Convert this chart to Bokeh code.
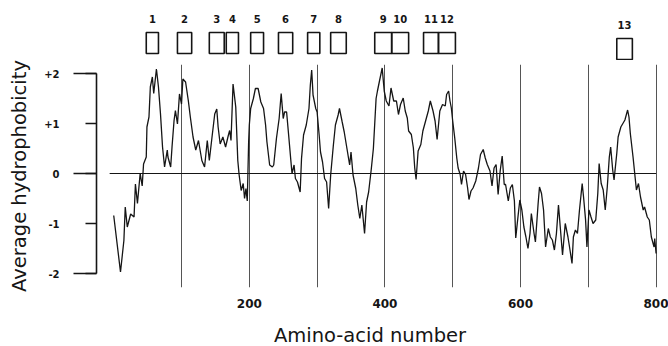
from bokeh.plotting import figure
from bokeh.models import Range1d, FixedTicker
from bokeh.layouts import column
from bokeh.embed import file_html
from bokeh.resources import INLINE
from bokeh.core.properties import value

# ---------------- data ----------------
residue = [0, 10, 15, 17, 20, 25, 30, 32, 35, 39, 42, 44, 48, 49, 52, 54, 57, 59, 63, 66,
           69, 72, 75, 79, 80, 84, 86, 89, 91, 94, 97, 100, 102, 106, 110, 113, 117, 121, 125, 130,
           134, 138, 141, 145, 149, 152, 154, 157, 161, 165, 169, 171, 173, 176, 180, 183, 185, 188, 191, 193,
           195, 197, 199, 200, 202, 206, 209, 213, 217, 221, 224, 226, 230, 234, 236, 240, 244, 247, 250, 252,
           255, 258, 261, 263, 266, 268, 271, 275, 277, 280, 284, 288, 290, 292, 294, 298, 300, 303, 305, 308,
           311, 314, 317, 320, 324, 327, 331, 333, 337, 340, 344, 348, 350, 353, 357, 360, 363, 366, 370, 373,
           376, 380, 383, 385, 387, 389, 392, 396, 399, 402, 406, 409, 413, 417, 420, 423, 427, 430, 433, 435,
           439, 442, 444, 446, 449, 453, 456, 460, 464, 467, 471, 474, 477, 481, 485, 489, 491, 494, 496, 498,
           500, 503, 506, 508, 511, 513, 516, 519, 522, 524, 527, 530, 534, 538, 541, 545, 548, 551, 555, 558,
           561, 564, 567, 570, 573, 576, 578, 582, 585, 588, 591, 593, 596, 599, 602, 605, 608, 611, 614, 616,
           620, 622, 626, 628, 631, 634, 637, 641, 644, 647, 650, 653, 656, 659, 662, 666, 670, 673, 676, 678,
           681, 684, 687, 691, 693, 696, 698, 701, 704, 707, 711, 714, 716, 719, 722, 725, 728, 731, 733, 736,
           738, 742, 744, 748, 751, 754, 758, 760, 762, 766, 769, 771, 774, 777, 781, 783, 787, 790, 793, 797,
           798, 800]
hydro = [-0.84, -1.97, -1.34, -0.67, -1.07, -0.81, -0.87, -0.21, -0.60, 0.00, -0.25, 0.19, 0.33, 0.93, 1.13, 1.73, 1.93, 1.60, 2.09, 1.73,
         1.19, 0.53, 0.13, 0.47, 0.33, 0.13, 0.53, 1.06, 1.26, 0.99, 1.59, 1.39, 1.89, 1.83, 1.46, 1.13, 0.73, 0.47, 0.66, 0.26,
         0.13, 0.66, 0.26, 0.73, 1.19, 1.29, 0.93, 0.59, 0.73, 0.53, 0.76, 0.86, 0.66, 1.79, 1.33, 0.26, -0.03, -0.34, -0.20, -0.50,
         -0.30, -0.55, 0.63, 0.97, 1.30, 1.50, 1.70, 1.70, 1.43, 1.30, 0.97, 0.63, 0.17, 0.13, 0.17, 0.70, 1.10, 1.60, 1.10, 1.23,
         1.23, 0.77, 0.30, 0.00, 0.17, -0.10, -0.17, -0.37, 0.30, 0.77, 0.97, 1.30, 1.77, 2.07, 1.57, 1.30, 1.23, 0.77, 0.43, 0.23,
         -0.10, -0.17, -0.70, -0.03, 0.57, 0.97, 1.17, 1.30, 1.03, 0.83, 0.50, 0.17, 0.43, -0.03, -0.30, -0.63, -0.90, -0.63, -1.20, -0.57,
         -0.37, 0.10, 0.50, 1.00, 1.50, 1.65, 1.85, 2.11, 1.65, 1.45, 1.35, 1.71, 1.45, 1.45, 1.18, 1.38, 1.51, 1.25, 1.11, 0.85,
         0.78, 0.51, 0.11, -0.12, 0.45, 0.58, 0.85, 1.05, 1.25, 1.45, 1.25, 1.05, 0.68, 1.25, 1.38, 1.35, 1.58, 1.65, 1.45, 1.31,
         1.05, 0.71, 0.31, 0.11, -0.02, -0.22, 0.05, -0.02, -0.29, -0.52, -0.35, -0.29, -0.15, 0.11, 0.38, 0.48, 0.31, 0.18, 0.05, -0.25,
         0.11, 0.18, -0.42, 0.05, 0.35, -0.22, -0.22, -0.55, -0.29, -0.22, -0.55, -1.29, -0.90, -0.53, -0.73, -1.07, -1.27, -1.50, -1.20, -0.80,
         -1.20, -1.37, -0.60, -0.27, -0.40, -0.73, -1.47, -1.10, -1.27, -1.33, -1.53, -1.20, -0.63, -1.13, -1.63, -1.00, -1.27, -1.53, -1.80, -1.27,
         -1.13, -1.20, -0.73, -0.20, -0.47, -0.93, -1.47, -0.73, -0.87, -1.00, -0.93, -0.40, 0.20, -0.20, -0.33, -0.73, -0.27, 0.33, 0.53, 0.07,
         -0.13, 0.40, 0.73, 0.93, 1.00, 1.07, 1.27, 1.13, 0.80, 0.33, -0.07, -0.33, -0.20, -0.47, -0.73, -0.67, -0.87, -0.93, -1.27, -1.47,
         -1.30, -1.60]

tm_labels = ["1", "2", "3", "4", "5", "6", "7", "8", "9", "10", "11", "12", "13"]
tm_start = [48, 94, 141, 166, 202, 243, 286, 320, 385, 410, 457, 479, 742]
tm_end = [66, 115, 163, 184, 221, 264, 304, 343, 410, 435, 479, 504, 765]

grid_ticks = [100, 200, 300, 400, 500, 600, 700, 800]
x_ticks = [200, 400, 600, 800]
y_ticks = [-2, -1, 0, 1, 2]
y_long_ticks = [-2, 0, 2]
y_tick_labels = {2: "+2", 1: "+1", 0: "0", -1: "-1", -2: "-2"}
x_title = "Amino-acid number"
y_title = "Average hydrophobicity"

# ---------------- style / layout ----------------
INK = "#151515"
TICK_FONT = "DejaVu Sans"
TITLE_FONT = "DejaVu Sans"
FRAME_LEFT = 96
W = 668
x_range = Range1d(-25.4, 818.3)


def strip(height):
    f = figure(width=W, height=height, x_range=x_range, y_range=Range1d(height, 0),
               output_backend="svg", toolbar_location=None,
               x_axis_type=None, y_axis_type=None,
               min_border_left=FRAME_LEFT, min_border_right=0,
               min_border_top=0, min_border_bottom=0)
    f.outline_line_color = None
    return f


# top strip: transmembrane segment boxes
pt = strip(60)
drop = [6 if i == len(tm_labels) - 1 else 0 for i in range(len(tm_labels))]
pt.quad(left=tm_start, right=tm_end,
        top=[32 + d for d in drop], bottom=[53 + d for d in drop],
        fill_color=None, line_color=INK, line_width=1.6)
centers = [(a + b) / 2 for a, b in zip(tm_start, tm_end)]
pt.text(x=centers, y=[18 + d for d in drop], text=tm_labels,
        text_align="center", text_baseline="middle",
        text_font=value(TICK_FONT), text_font_style="bold",
        text_font_size="10px", text_color=INK)

# main plot
p = figure(width=W, height=251, x_range=x_range, y_range=Range1d(-2.28, 2.18),
           output_backend="svg", toolbar_location=None,
           min_border_left=FRAME_LEFT, min_border_right=0,
           min_border_top=4, min_border_bottom=24)
p.outline_line_color = None

p.xgrid.ticker = FixedTicker(ticks=grid_ticks)
p.xgrid.grid_line_color = "#555555"
p.xgrid.grid_line_width = 1
p.ygrid.visible = False

# x axis: labels only
p.xaxis.ticker = FixedTicker(ticks=x_ticks)
p.xaxis.axis_line_color = None
p.xaxis.major_tick_line_color = None
p.xaxis.minor_tick_line_color = None
p.xaxis.major_label_standoff = 5
p.xaxis.major_label_text_font = TICK_FONT
p.xaxis.major_label_text_font_style = "bold"
p.xaxis.major_label_text_font_size = "12px"
p.xaxis.major_label_text_color = INK

# y axis: bracket with short ticks at +-1 and long ticks at +-2, 0
p.yaxis.ticker = FixedTicker(ticks=y_ticks, minor_ticks=y_long_ticks)
p.yaxis.bounds = (-2, 2)
p.yaxis.axis_line_color = INK
p.yaxis.axis_line_width = 1.6
p.yaxis.major_tick_out = 11
p.yaxis.major_tick_in = 0
p.yaxis.minor_tick_out = 23
p.yaxis.minor_tick_in = 0
p.yaxis.major_tick_line_color = INK
p.yaxis.minor_tick_line_color = INK
p.yaxis.major_tick_line_width = 1.6
p.yaxis.minor_tick_line_width = 1.6
p.yaxis.major_label_overrides = y_tick_labels
p.yaxis.major_label_standoff = 14
p.yaxis.major_label_text_font = TICK_FONT
p.yaxis.major_label_text_font_style = "bold"
p.yaxis.major_label_text_font_size = "10px"
p.yaxis.major_label_text_color = INK
p.yaxis.axis_label = y_title
p.yaxis.axis_label_text_font = TITLE_FONT
p.yaxis.axis_label_text_font_style = "normal"
p.yaxis.axis_label_text_font_size = "19.5px"
p.yaxis.axis_label_text_color = INK
p.yaxis.axis_label_standoff = 10

# zero reference line and hydropathy trace
p.line(x=[residue[0] - 6, residue[-1]], y=[0, 0], line_color=INK, line_width=1)
p.line(x=residue, y=hydro, line_color=INK, line_width=1.3)

# bottom strip: x-axis title
pb = strip(35)
pb.text(x=[378], y=[24], text=[x_title], text_align="center", text_baseline="alphabetic",
        text_font=value(TITLE_FONT), text_font_size="19.5px", text_color=INK)

layout = column(pt, p, pb, spacing=0)
open("out.html", "w").write(file_html(layout, INLINE))
